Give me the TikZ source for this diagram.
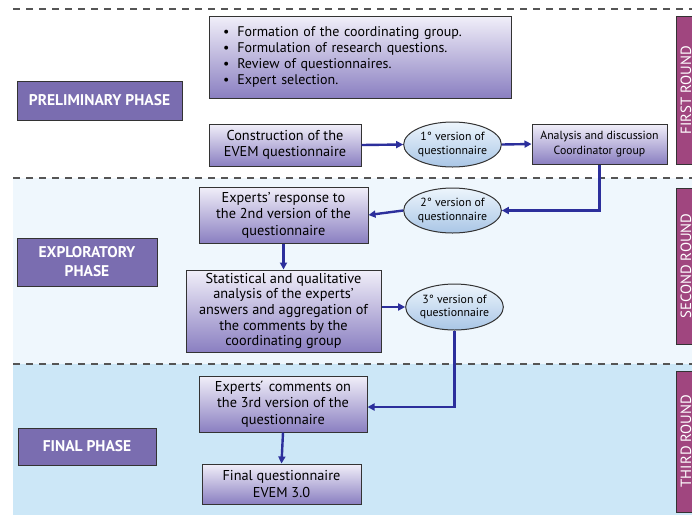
\documentclass[tikz,border=0pt]{standalone}
\usepackage{fontspec}
\setmainfont{PT Sans}
\usetikzlibrary{shapes.geometric,arrows.meta}
\definecolor{bgtwo}{HTML}{EFF7FD}
\definecolor{bgthree}{HTML}{CCE7F7}
\definecolor{dashcol}{HTML}{555555}
\definecolor{boxtop}{HTML}{F1EFF9}
\definecolor{boxbot}{HTML}{8A7FC1}
\definecolor{phasecol}{HTML}{7A6DB0}
\definecolor{bordcol}{HTML}{333333}
\definecolor{elltop}{HTML}{EDF5FC}
\definecolor{ellbot}{HTML}{A9C6E6}
\definecolor{arrcol}{HTML}{2C2F9C}
\definecolor{roundcol}{HTML}{A0467F}
\tikzset{
  procbox/.style={draw=bordcol, line width=1pt, top color=boxtop, bottom color=boxbot,
    align=center, font=\fontsize{14.3}{16.5}\selectfont, inner sep=1pt},
  phasebox/.style={draw=bordcol, line width=1pt, fill=phasecol, text=white,
    align=center, font=\bfseries\fontsize{15.5}{19}\selectfont, inner sep=2pt},
  vers/.style={ellipse, draw=bordcol, line width=1pt, top color=elltop, bottom color=ellbot,
    align=center, font=\fontsize{11.8}{13.5}\selectfont, inner sep=0pt},
  flow/.style={draw=arrcol, line width=2.4pt, -{Triangle[length=7pt,width=7pt]}},
  sepline/.style={draw=dashcol, line width=1.2pt, dash pattern=on 7pt off 6pt},
  roundbar/.style={draw=bordcol, line width=1pt, fill=roundcol},
  roundtxt/.style={rotate=90, anchor=base, text=white, font=\fontsize{14.8}{16}\selectfont, inner sep=0pt}
}
\begin{document}
\begin{tikzpicture}[x=1pt,y=-1pt]
\useasboundingbox (0,0) rectangle (692,515);
\clip (0,0) rectangle (692,515);
\fill[white] (0,0) rectangle (692,515);
\fill[bgtwo] (13,178) rectangle (692,364);
\fill[bgthree] (13,364) rectangle (692,515);
\draw[sepline] (13,9) -- (692,9);
\draw[sepline] (13,178) -- (692,178);
\draw[sepline] (13,364) -- (692,364);

% round bars
\draw[roundbar] (676,16) rectangle (712,164);
\draw[roundbar] (676,188) rectangle (712,344);
\draw[roundbar] (676,371) rectangle (712,512);
\node[roundtxt] (r1) at (691,90) {FIRST ROUND};
\node[roundtxt] (r2) at (691,266) {SECOND ROUND};
\node[roundtxt] (r3) at (691,441) {THIRD ROUND};

% phases
\node[phasebox, minimum width=165pt, minimum height=39pt] (p1) at (99.5,100.5) {PRELIMINARY PHASE};
\node[phasebox, minimum width=140pt, minimum height=48pt] (p2) at (87,262) {EXPLORATORY\\PHASE};
\node[phasebox, minimum width=138pt, minimum height=37pt] (p3) at (87,446.5) {FINAL PHASE};

% bullet box
\node[procbox, minimum width=302pt, minimum height=82pt, text width=274pt, align=left,
  inner xsep=14pt, font=\fontsize{14}{16}\selectfont] (bul) at (360,57)
  {\textbullet\hspace{8pt}Formation of the coordinating group.\\
   \textbullet\hspace{8pt}Formulation of research questions.\\
   \textbullet\hspace{8pt}Review of questionnaires.\\
   \textbullet\hspace{8pt}Expert selection.};

% process boxes
\node[procbox, minimum width=152pt, minimum height=42pt] (constr) at (285,145) {Construction of the\\EVEM questionnaire};
\node[procbox, minimum width=135pt, minimum height=40pt, font=\fontsize{11.8}{15}\selectfont] (anal) at (599.5,144) {Analysis and discussion\\Coordinator group};
\node[procbox, minimum width=169pt, minimum height=56pt] (resp) at (283.5,215) {Experts' response to\\the 2nd version of the\\questionnaire};
\node[procbox, minimum width=195pt, minimum height=82pt, font=\fontsize{14.3}{15.6}\selectfont] (stat) at (283.5,311) {Statistical and qualitative\\analysis of the experts'\\answers and aggregation of\\the comments by the\\coordinating group};
\node[procbox, minimum width=168pt, minimum height=56pt] (comm) at (283,404) {Experts\'{} comments on\\the 3rd version of the\\questionnaire};
\node[procbox, minimum width=159pt, minimum height=40pt] (fin) at (281.5,484) {Final questionnaire\\EVEM 3.0};

% ellipses
\node[vers, minimum width=97pt, minimum height=45pt] (e1) at (452.5,144.5) {1° version of\\questionnaire};
\node[vers, minimum width=97pt, minimum height=45pt] (e2) at (452.5,210.5) {2° version of\\questionnaire};
\node[vers, minimum width=97pt, minimum height=46pt] (e3) at (454.5,307) {3° version of\\questionnaire};

% connectors
\draw[flow] (constr.east) -- (e1.west);
\draw[flow] (e1.east) -- (anal.west);
\draw[flow] (anal.south) |- (e2.east);
\draw[flow] (e2.west) -- (resp.east);
\draw[flow] (resp.south) -- (stat.north);
\draw[flow] (stat.east |- e3.west) -- (e3.west);
\draw[flow] (e3.south) |- ([yshift=-3pt]comm.east);
\draw[flow] (comm.south) -- (fin.north);
\end{tikzpicture}
\end{document}
